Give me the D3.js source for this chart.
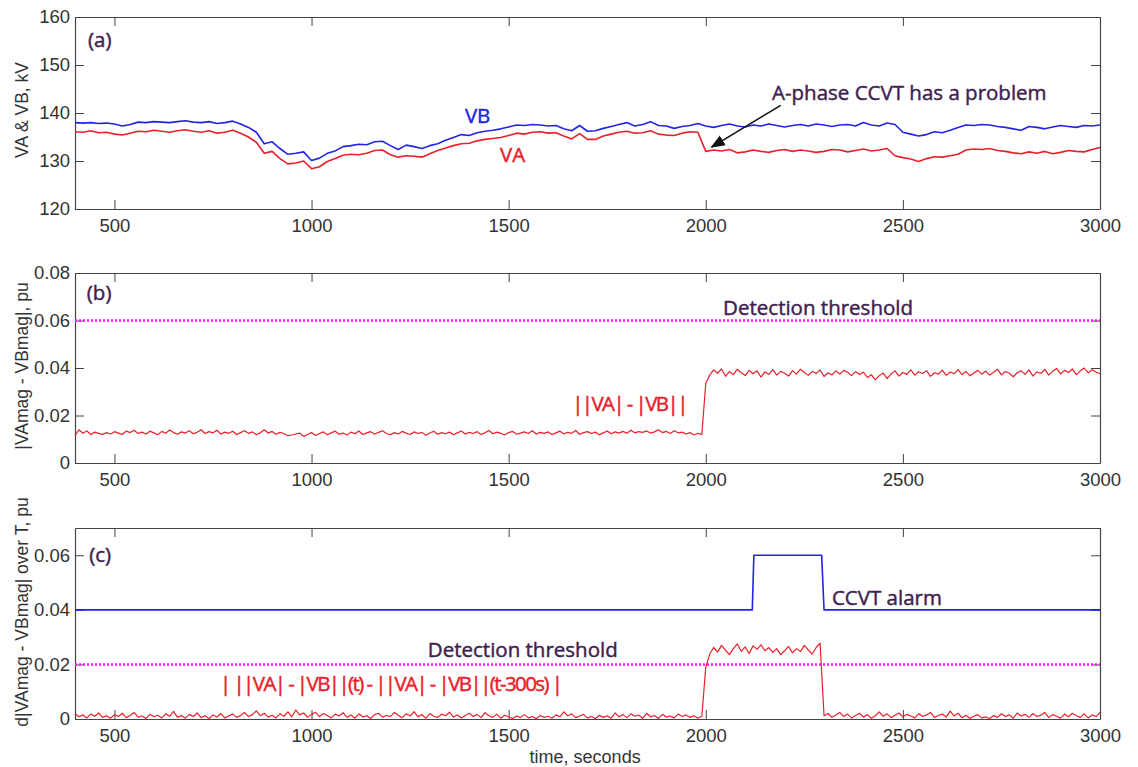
<!DOCTYPE html>
<html lang="en">

<head>
    <meta charset="UTF-8">
    <title>CCVT monitoring</title>
    <script src="https://d3js.org/d3.v7.min.js"></script>
    <style>
        body {
            margin: 0;
            background: #ffffff;
        }

        .tick text {
            font-family: 'Liberation Sans', Arial, sans-serif;
            font-size: 18.5px;
            fill: #333333;
        }

        .axis-title {
            font-family: 'Liberation Sans', Arial, sans-serif;
            font-size: 17.5px;
            fill: #333333;
        }

        .note {
            font-family: 'Open Sans', 'Noto Sans', sans-serif;
            font-size: 20.5px;
            stroke-width: 0.45px;
        }

        .note.formula {
            letter-spacing: -1.6px;
        }
    </style>
</head>

<body>
    <svg width="1138" height="767"></svg>

    <script>
        // ---- data ----
        const xTicks = [500, 1000, 1500, 2000, 2500, 3000];
        const aTicks = [120, 130, 140, 150, 160];
        const bTicks = [0, 0.02, 0.04, 0.06, 0.08];
        const cTicks = [0, 0.02, 0.04, 0.06];

        // panel (a): 20 s sampling, 400..3000
        const timeA = d3.range(400, 3001, 20);
        const vbKV = [
            138.0, 137.9, 138.0, 137.8, 137.9, 137.7, 137.3, 137.6, 138.1, 138.0,
            138.2, 138.1, 138.0, 138.2, 138.4, 138.1, 138.0, 138.2, 137.8, 138.0,
            138.3, 137.7, 137.0, 136.0, 133.6, 134.0, 132.6, 131.4, 131.6, 131.9,
            130.1, 130.6, 131.6, 132.1, 133.0, 133.2, 133.5, 133.4, 134.0, 134.1,
            133.2, 132.4, 133.3, 133.0, 132.6, 133.2, 133.6, 134.3, 134.9, 135.5,
            135.3, 135.9, 136.2, 136.4, 136.7, 137.1, 137.5, 137.4, 137.6, 137.5,
            137.3, 137.4, 136.7, 136.3, 137.4, 136.2, 136.3, 136.8, 137.2, 137.6,
            138.0, 137.3, 137.6, 138.2, 137.4, 137.3, 136.8, 137.2, 137.4, 137.8,
            137.3, 137.0, 137.4, 137.7, 137.3, 137.1, 137.5, 137.3, 137.7, 137.4,
            137.1, 137.4, 137.6, 137.3, 137.7, 137.5, 137.2, 137.5, 137.6, 137.3,
            138.0, 137.5, 137.3, 137.9, 137.6, 136.0, 135.6, 135.2, 135.5, 136.1,
            135.9, 136.4, 137.0, 137.5, 137.4, 137.6, 137.5, 137.2, 137.0, 136.7,
            136.4, 137.2, 137.0, 136.7, 137.1, 137.4, 137.2, 137.0, 137.4, 137.3,
            137.5
        ];
        const vaKV = [
            136.1, 136.0, 136.3, 135.9, 136.0, 135.6, 135.4, 135.8, 136.2, 136.1,
            136.4, 136.2, 136.0, 136.3, 136.5, 136.2, 136.0, 136.3, 135.8, 136.0,
            136.4, 135.8, 135.0, 133.9, 131.6, 132.0, 130.5, 129.4, 129.6, 130.0,
            128.4, 128.8, 129.9, 130.5, 131.2, 131.4, 131.3, 131.6, 132.2, 132.3,
            131.3, 130.8, 131.1, 131.0, 130.8, 131.5, 132.2, 132.7, 133.2, 133.6,
            133.7, 134.2, 134.5, 134.7, 134.9, 135.3, 135.8, 135.6, 136.0, 136.1,
            135.8, 135.9, 135.2, 134.6, 135.7, 134.5, 134.5, 135.2, 135.6, 136.0,
            136.2, 135.8, 135.9, 136.3, 135.6, 135.4, 135.3, 135.8, 136.1, 136.0,
            132.0, 132.3, 132.1, 132.4, 131.7, 131.9, 132.3, 132.0, 131.8, 132.2,
            132.4, 132.0, 132.3, 132.1, 131.8, 132.0, 132.4, 132.3, 131.9, 132.2,
            132.5, 132.1, 132.3, 132.6, 131.1, 130.7, 130.4, 129.9, 130.5, 130.9,
            130.8, 131.1, 131.4, 132.3, 132.5, 132.4, 132.6, 132.2, 132.0, 131.7,
            131.5, 131.9, 131.6, 132.0, 131.5, 131.8, 132.2, 132.0, 131.9, 132.4,
            132.8
        ];

        // panels (b) and (c): 10 s sampling, 400..3000
        const timeFine = d3.range(400, 3001, 10);
        const diffPu = [
            0.0115, 0.0140, 0.0125, 0.0135, 0.0120, 0.0130, 0.0125, 0.0120, 0.0128, 0.0122, 0.0132, 0.0126, 0.0120, 0.0135, 0.0128, 0.0138, 0.0124, 0.0130, 0.0122, 0.0134,
            0.0127, 0.0119, 0.0133, 0.0125, 0.0139, 0.0128, 0.0121, 0.0131, 0.0126, 0.0136, 0.0123, 0.0129, 0.0140, 0.0124, 0.0132, 0.0127, 0.0138, 0.0122, 0.0130, 0.0125,
            0.0134, 0.0120, 0.0128, 0.0136, 0.0125, 0.0131, 0.0119, 0.0127, 0.0140, 0.0126, 0.0133, 0.0121, 0.0129, 0.0124, 0.0115, 0.0118, 0.0122, 0.0126, 0.0112, 0.0120,
            0.0128, 0.0116, 0.0124, 0.0131, 0.0119, 0.0127, 0.0134, 0.0121, 0.0126, 0.0118, 0.0130, 0.0123, 0.0135, 0.0120, 0.0127, 0.0132, 0.0122, 0.0129, 0.0136, 0.0124,
            0.0119, 0.0128, 0.0122, 0.0133, 0.0126, 0.0120, 0.0131, 0.0124, 0.0129, 0.0117, 0.0126, 0.0134, 0.0121, 0.0128, 0.0123, 0.0130, 0.0119, 0.0127, 0.0135, 0.0122,
            0.0129, 0.0124, 0.0132, 0.0120, 0.0127, 0.0137, 0.0123, 0.0130, 0.0125, 0.0118, 0.0128, 0.0133, 0.0121, 0.0126, 0.0131, 0.0124, 0.0136, 0.0122, 0.0129, 0.0125,
            0.0131, 0.0120, 0.0127, 0.0134, 0.0123, 0.0129, 0.0125, 0.0137, 0.0121, 0.0128, 0.0132, 0.0124, 0.0130, 0.0119, 0.0127, 0.0135, 0.0123, 0.0131, 0.0126, 0.0133,
            0.0125, 0.0138, 0.0127, 0.0132, 0.0129, 0.0135, 0.0126, 0.0131, 0.0140, 0.0128, 0.0133, 0.0124, 0.0136, 0.0127, 0.0130, 0.0122, 0.0128, 0.0118, 0.0125, 0.0120,
            0.0335, 0.0370, 0.0392, 0.0378, 0.0396, 0.0365, 0.0385, 0.0372, 0.0395, 0.0380, 0.0368, 0.0390, 0.0376, 0.0388, 0.0362, 0.0384, 0.0373, 0.0393, 0.0370, 0.0386,
            0.0378, 0.0366, 0.0389, 0.0374, 0.0395, 0.0381, 0.0369, 0.0386, 0.0377, 0.0392, 0.0364, 0.0380, 0.0371, 0.0388, 0.0375, 0.0390, 0.0382, 0.0368, 0.0385, 0.0373,
            0.0383, 0.0360, 0.0372, 0.0350, 0.0368, 0.0378, 0.0355, 0.0375, 0.0388, 0.0366, 0.0381, 0.0373, 0.0392, 0.0370, 0.0384, 0.0377, 0.0389, 0.0365, 0.0380, 0.0374,
            0.0391, 0.0369, 0.0383, 0.0376, 0.0393, 0.0372, 0.0386, 0.0367, 0.0379, 0.0390, 0.0374, 0.0387, 0.0370, 0.0382, 0.0395, 0.0371, 0.0385, 0.0378, 0.0363, 0.0380,
            0.0388, 0.0373, 0.0392, 0.0366, 0.0384, 0.0377, 0.0394, 0.0370, 0.0386, 0.0398, 0.0375, 0.0390, 0.0381, 0.0396, 0.0372, 0.0388, 0.0400, 0.0379, 0.0393, 0.0383,
            0.0376
        ];
        const deltaPu = [
            0.0020, 0.0008, 0.0015, 0.0004, 0.0018, 0.0010, 0.0022, 0.0006, 0.0012, 0.0003, 0.0016, 0.0009, 0.0021, 0.0005, 0.0013, 0.0024, 0.0007, 0.0011, 0.0002, 0.0017,
            0.0008, 0.0014, 0.0004, 0.0019, 0.0010, 0.0028, 0.0006, 0.0013, 0.0003, 0.0017, 0.0009, 0.0022, 0.0005, 0.0012, 0.0001, 0.0015, 0.0007, 0.0020, 0.0004, 0.0011,
            0.0018, 0.0006, 0.0013, 0.0024, 0.0009, 0.0016, 0.0030, 0.0012, 0.0021, 0.0007, 0.0014, 0.0004, 0.0019, 0.0010, 0.0026, 0.0008, 0.0033, 0.0015, 0.0022, 0.0006,
            0.0017, 0.0025, 0.0009, 0.0020, 0.0013, 0.0004, 0.0018, 0.0011, 0.0023, 0.0006, 0.0015, 0.0003, 0.0019, 0.0008, 0.0012, 0.0002, 0.0016, 0.0021, 0.0007, 0.0013,
            0.0009, 0.0024, 0.0014, 0.0005, 0.0019, 0.0011, 0.0027, 0.0008, 0.0016, 0.0003, 0.0020, 0.0010, 0.0006, 0.0018, 0.0012, 0.0025, 0.0007, 0.0015, 0.0004, 0.0013,
            0.0021, 0.0009, 0.0017, 0.0005, 0.0023, 0.0012, 0.0006, 0.0018, 0.0003, 0.0014, 0.0008, 0.0002, 0.0011, 0.0005, 0.0016, 0.0004, 0.0009, 0.0001, 0.0013, 0.0006,
            0.0010, 0.0003, 0.0015, 0.0008, 0.0026, 0.0012, 0.0019, 0.0005, 0.0011, 0.0017, 0.0004, 0.0009, 0.0001, 0.0014, 0.0006, 0.0012, 0.0003, 0.0022, 0.0008, 0.0016,
            0.0005, 0.0019, 0.0010, 0.0014, 0.0003, 0.0021, 0.0008, 0.0013, 0.0002, 0.0017, 0.0007, 0.0011, 0.0004, 0.0018, 0.0009, 0.0015, 0.0006, 0.0012, 0.0003, 0.0010,
            0.0190, 0.0238, 0.0262, 0.0245, 0.0270, 0.0252, 0.0236, 0.0258, 0.0275, 0.0248, 0.0264, 0.0240, 0.0268, 0.0255, 0.0272, 0.0250, 0.0262, 0.0244, 0.0258, 0.0236,
            0.0250, 0.0266, 0.0242, 0.0258, 0.0247, 0.0270, 0.0253, 0.0238, 0.0262, 0.0278, 0.0012, 0.0020, 0.0006, 0.0015, 0.0024, 0.0009, 0.0018, 0.0004, 0.0013, 0.0021,
            0.0007, 0.0016, 0.0003, 0.0012, 0.0026, 0.0010, 0.0019, 0.0005, 0.0014, 0.0022, 0.0008, 0.0017, 0.0011, 0.0004, 0.0020, 0.0009, 0.0015, 0.0024, 0.0006, 0.0013,
            0.0018, 0.0007, 0.0029, 0.0011, 0.0021, 0.0005, 0.0014, 0.0002, 0.0010, 0.0016, 0.0004, 0.0008, 0.0001, 0.0013, 0.0006, 0.0019, 0.0009, 0.0015, 0.0003, 0.0022,
            0.0011, 0.0017, 0.0006, 0.0020, 0.0009, 0.0014, 0.0024, 0.0005, 0.0016, 0.0010, 0.0003, 0.0018, 0.0008, 0.0021, 0.0012, 0.0006, 0.0019, 0.0004, 0.0015, 0.0009,
            0.0024
        ];

        // CCVT alarm (step) and thresholds
        const alarmTimes = [400, 2118, 2122, 2294, 2300, 3000];
        const alarmPu = [0.04, 0.04, 0.06, 0.06, 0.04, 0.04];
        const thresholdB = 0.06;
        const thresholdC = 0.02;

        // ---- layout ----
        const left = 75, right = 1100;
        const panels = [
            { top: 17, bottom: 209, domain: [120, 160], ticks: aTicks, title: "VA & VB, kV", titleY: 110 },
            { top: 273, bottom: 463, domain: [0, 0.08], ticks: bTicks, title: "|VAmag - VBmag|, pu", titleY: 366 },
            { top: 528, bottom: 719, domain: [0, 0.07], ticks: cTicks, title: "d|VAmag - VBmag| over T, pu", titleY: 612 }
        ];

        const svg = d3.select("svg");
        const x = d3.scaleLinear().domain([400, 3000]).range([left, right]);

        const noteColor = "#3f2150";
        const blue = "#2323e6";
        const red = "#e8202a";
        const magenta = "#ff1aff";
        const yFmt = d => d === 0 ? "0" : (d < 1 ? d.toFixed(2) : String(d));

        // arrowhead
        svg.append("defs").append("marker")
            .attr("id", "arrow")
            .attr("viewBox", "0 0 10 10")
            .attr("refX", 9).attr("refY", 5)
            .attr("markerWidth", 9).attr("markerHeight", 9)
            .attr("orient", "auto")
            .append("path")
            .attr("d", "M0,1 L10,5 L0,9 z")
            .attr("fill", "#111");

        panels.forEach(p => {
            p.y = d3.scaleLinear().domain(p.domain).range([p.bottom, p.top]);
            const g = svg.append("g");

            // axes, MATLAB-style box with inward ticks
            g.append("g")
                .attr("transform", `translate(0,${p.bottom})`)
                .call(d3.axisBottom(x).tickValues(xTicks).tickFormat(d3.format("d"))
                    .tickSizeInner(-9).tickSizeOuter(0).tickPadding(10));
            g.append("g")
                .attr("transform", `translate(0,${p.top})`)
                .call(d3.axisTop(x).tickValues(xTicks).tickSizeInner(-9).tickSizeOuter(0).tickFormat(""));
            g.append("g")
                .attr("transform", `translate(${left},0)`)
                .call(d3.axisLeft(p.y).tickValues(p.ticks).tickSizeInner(-9).tickSizeOuter(0).tickPadding(5).tickFormat(yFmt));
            g.append("g")
                .attr("transform", `translate(${right},0)`)
                .call(d3.axisRight(p.y).tickValues(p.ticks).tickSizeInner(-9).tickSizeOuter(0).tickFormat(""));

            g.selectAll(".domain").attr("stroke", "#444").attr("stroke-width", 1.2);
            g.selectAll(".tick line").attr("stroke", "#444");

            g.append("text")
                .attr("class", "axis-title")
                .attr("transform", `translate(28,${p.titleY}) rotate(-90)`)
                .attr("text-anchor", "middle")
                .text(p.title);
        });

        const [pa, pb, pc] = panels;

        function drawLine(ts, vs, yScale, color, width) {
            const pts = ts.map((t, i) => [t, vs[i]]);
            svg.append("path")
                .datum(pts)
                .attr("fill", "none")
                .attr("stroke", color)
                .attr("stroke-width", width)
                .attr("stroke-linejoin", "round")
                .attr("d", d3.line().x(d => x(d[0])).y(d => yScale(d[1])));
        }

        function drawThreshold(v, yScale) {
            svg.append("line")
                .attr("x1", x(400)).attr("x2", x(3000))
                .attr("y1", yScale(v)).attr("y2", yScale(v))
                .attr("stroke", magenta)
                .attr("stroke-width", 2.4)
                .attr("stroke-dasharray", "2,2");
        }

        function note(txt, t, v, yScale, color, cls) {
            svg.append("text")
                .attr("class", "note" + (cls ? " " + cls : ""))
                .attr("x", x(t)).attr("y", yScale(v))
                .attr("fill", color)
                .attr("stroke", color)
                .text(txt);
        }

        // (a)
        drawLine(timeA, vbKV, pa.y, blue, 1.6);
        drawLine(timeA, vaKV, pa.y, red, 1.6);
        note("(a)", 433, 153.7, pa.y, noteColor);
        note("VB", 1389, 137.9, pa.y, blue);
        note("VA", 1478, 129.8, pa.y, red);
        note("A-phase CCVT has a problem", 2168, 142.7, pa.y, noteColor);
        svg.append("line")
            .attr("x1", x(2190)).attr("y1", pa.y(141.6))
            .attr("x2", x(2015)).attr("y2", pa.y(132.9))
            .attr("stroke", "#111").attr("stroke-width", 1.6)
            .attr("marker-end", "url(#arrow)");

        // (b)
        drawThreshold(thresholdB, pb.y);
        drawLine(timeFine, diffPu, pb.y, red, 1.2);
        note("(b)", 430, 0.0686, pb.y, noteColor);
        note("Detection threshold", 2044, 0.0623, pb.y, noteColor);
        note("||VA| - |VB||", 1661, 0.0219, pb.y, red, "formula");

        // (c)
        drawThreshold(thresholdC, pc.y);
        drawLine(alarmTimes, alarmPu, pc.y, blue, 1.6);
        drawLine(timeFine, deltaPu, pc.y, red, 1.2);
        note("(c)", 436, 0.0576, pc.y, noteColor);
        note("CCVT alarm", 2320, 0.0418, pc.y, noteColor);
        note("Detection threshold", 1295, 0.0228, pc.y, noteColor);
        note("| ||VA| - |VB||(t) - ||VA| - |VB||(t-300s) |", 768, 0.0103, pc.y, red, "formula");

        svg.append("text")
            .attr("class", "axis-title")
            .attr("x", x(1694)).attr("y", 763)
            .attr("text-anchor", "middle")
            .style("font-size", "18px")
            .text("time, seconds");
    </script>
</body>

</html>
